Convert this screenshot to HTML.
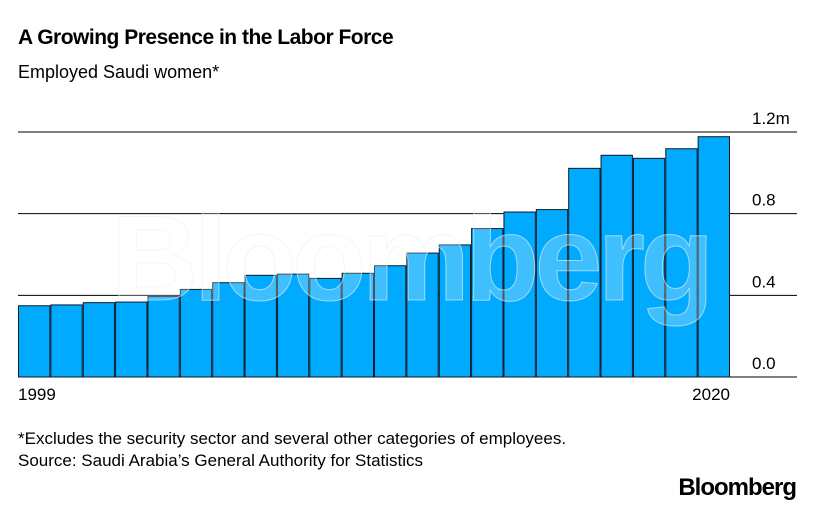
<!DOCTYPE html>
<html><head><meta charset="utf-8"><style>
body{margin:0;background:#fff;font-family:"Liberation Sans",sans-serif;}
#wrap{position:relative;width:814px;height:510px;overflow:hidden;}
.t{position:absolute;margin:0;color:#000;}
</style></head><body>
<div id="wrap">
<div class="t" style="left:18px;top:26px;font-size:21px;font-weight:bold;letter-spacing:-0.5px">A Growing Presence in the Labor Force</div>
<div class="t" style="left:18px;top:62px;font-size:18px">Employed Saudi women*</div>
<svg id="chart" width="814" height="420" style="position:absolute;left:0;top:0"></svg>
<div class="t" style="left:18px;top:428px;font-size:17px;line-height:22px">*Excludes the security sector and several other categories of employees.<br>Source: Saudi Arabia’s General Authority for Statistics</div>
<div class="t" style="right:18px;top:474px;font-size:24px;font-weight:bold;letter-spacing:-1px">Bloomberg</div>
</div>
<script>
const years=[1999,2000,2001,2002,2003,2004,2005,2006,2007,2008,2009,2010,2011,2012,2013,2014,2015,2016,2017,2018,2019,2020];
const values=[0.349,0.353,0.364,0.367,0.395,0.429,0.462,0.498,0.504,0.483,0.508,0.545,0.607,0.647,0.727,0.808,0.820,1.022,1.086,1.071,1.118,1.177];
const yTicks=[0,0.4,0.8,1.2];
const yTickLabels=["0.0","0.4","0.8","1.2m"];
const xLabels=["1999","2020"];
const NS="http://www.w3.org/2000/svg";
const svg=document.getElementById('chart');
const x0=18,x1=730,gx1=797,yb=377,yt=132;
const y=v=>yb-(v/1.2)*(yb-yt);
const bw=(x1-x0)/years.length;
const x=i=>x0+i*bw;
function mk(t,a){const e=document.createElementNS(NS,t);for(const k in a)e.setAttribute(k,a[k]);svg.appendChild(e);return e;}
yTicks.forEach((v,i)=>{
 const l=mk('line',{x1:x0,x2:gx1,y1:y(v),y2:y(v),stroke:'#000','stroke-width':1});
 
 
});
values.forEach((v,i)=>{
 const r=mk('rect',{x:x(i)+0.5,y:y(v),width:bw-1,height:yb-y(v),fill:'#00aaff',stroke:'#0a1a2a','stroke-width':1});
 
 
});
const wm=mk('text',{x:410,y:300,'text-anchor':'middle','font-size':122,'font-weight':'bold','font-family':'Liberation Sans, sans-serif',fill:'#fff','fill-opacity':0.25,stroke:'#eee','stroke-opacity':0.6,'letter-spacing':-5});
wm.textContent='Bloomberg';


yTicks.forEach((v,i)=>{
 const t=mk('text',{x:752,y:y(v)-8,'font-size':17,fill:'#000','font-family':'Liberation Sans, sans-serif'});
 t.textContent=yTickLabels[i];
 
 
});
[0,years.length-1].forEach((i,k)=>{
 const t=mk('text',{x:k?x(i)+bw:x(i),y:400,'font-size':17,fill:'#000','text-anchor':k?'end':'start','font-family':'Liberation Sans, sans-serif'});
 t.textContent=xLabels[k];
 
 
});
</script>
</body></html>
